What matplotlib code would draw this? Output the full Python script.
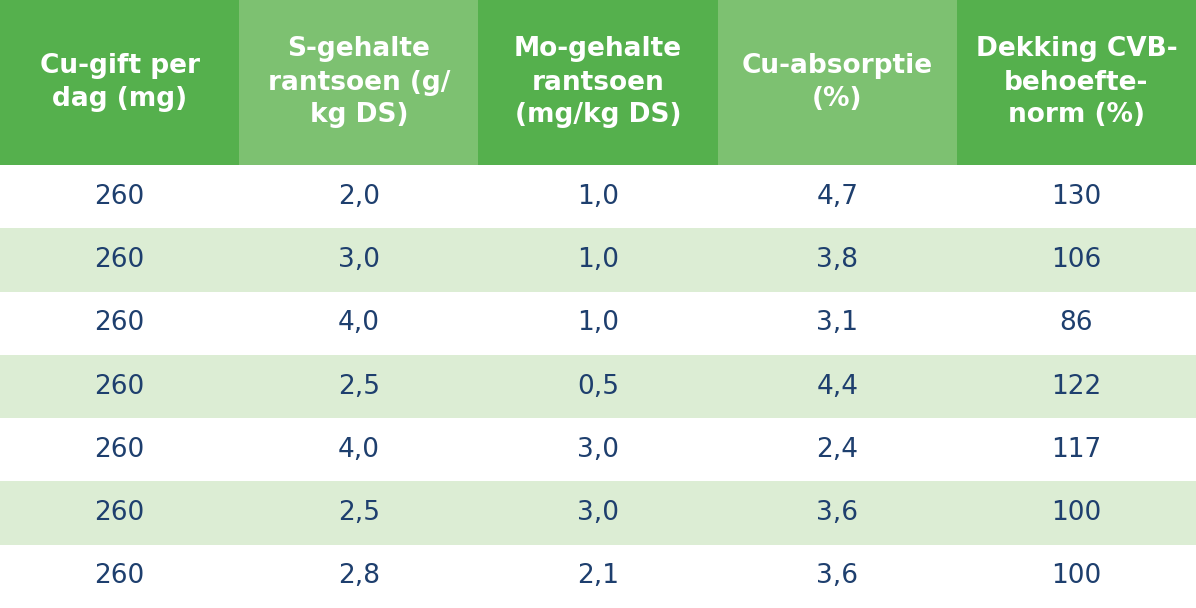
import matplotlib
matplotlib.use("Agg")
import matplotlib.pyplot as plt
from matplotlib.patches import Rectangle

headers = ["Cu-gift per\ndag (mg)", "S-gehalte\nrantsoen (g/\nkg DS)", "Mo-gehalte\nrantsoen\n(mg/kg DS)",
           "Cu-absorptie\n(%)", "Dekking CVB-\nbehoefte-\nnorm (%)"]
cu_gift = ["260"] * 7
s_gehalte = ["2,0", "3,0", "4,0", "2,5", "4,0", "2,5", "2,8"]
mo_gehalte = ["1,0", "1,0", "1,0", "0,5", "3,0", "3,0", "2,1"]
cu_absorptie = ["4,7", "3,8", "3,1", "4,4", "2,4", "3,6", "3,6"]
dekking = ["130", "106", "86", "122", "117", "100", "100"]
columns = [cu_gift, s_gehalte, mo_gehalte, cu_absorptie, dekking]

W, H = 1196, 608
head_h = 165
ncol, nrow = len(headers), len(cu_gift)
col_w = W / ncol
row_h = (H - head_h) / nrow

fig = plt.figure(figsize=(W / 100, H / 100), dpi=100)
ax = fig.add_axes([0, 0, 1, 1])
ax.set_xlim(0, W); ax.set_ylim(H, 0); ax.axis("off")

dark, light = "#55b04d", "#7dc171"
text_col = "#1e3f6e"
for j, h in enumerate(headers):
    ax.add_patch(Rectangle((j * col_w, 0), col_w, head_h, color=dark if j % 2 == 0 else light, lw=0))
    ax.text((j + 0.5) * col_w, head_h / 2, h, ha="center", va="center", color="white",
            fontsize=19, fontweight="bold", family="DejaVu Sans", linespacing=1.35)
for i in range(nrow):
    y0 = head_h + i * row_h
    ax.add_patch(Rectangle((0, y0), W, row_h, color="#ffffff" if i % 2 == 0 else "#dcedd4", lw=0))
    for j, col in enumerate(columns):
        ax.text((j + 0.5) * col_w, y0 + row_h / 2, col[i], ha="center", va="center",
                color=text_col, fontsize=19, family="DejaVu Sans")
fig.savefig("out.png", dpi=100)
